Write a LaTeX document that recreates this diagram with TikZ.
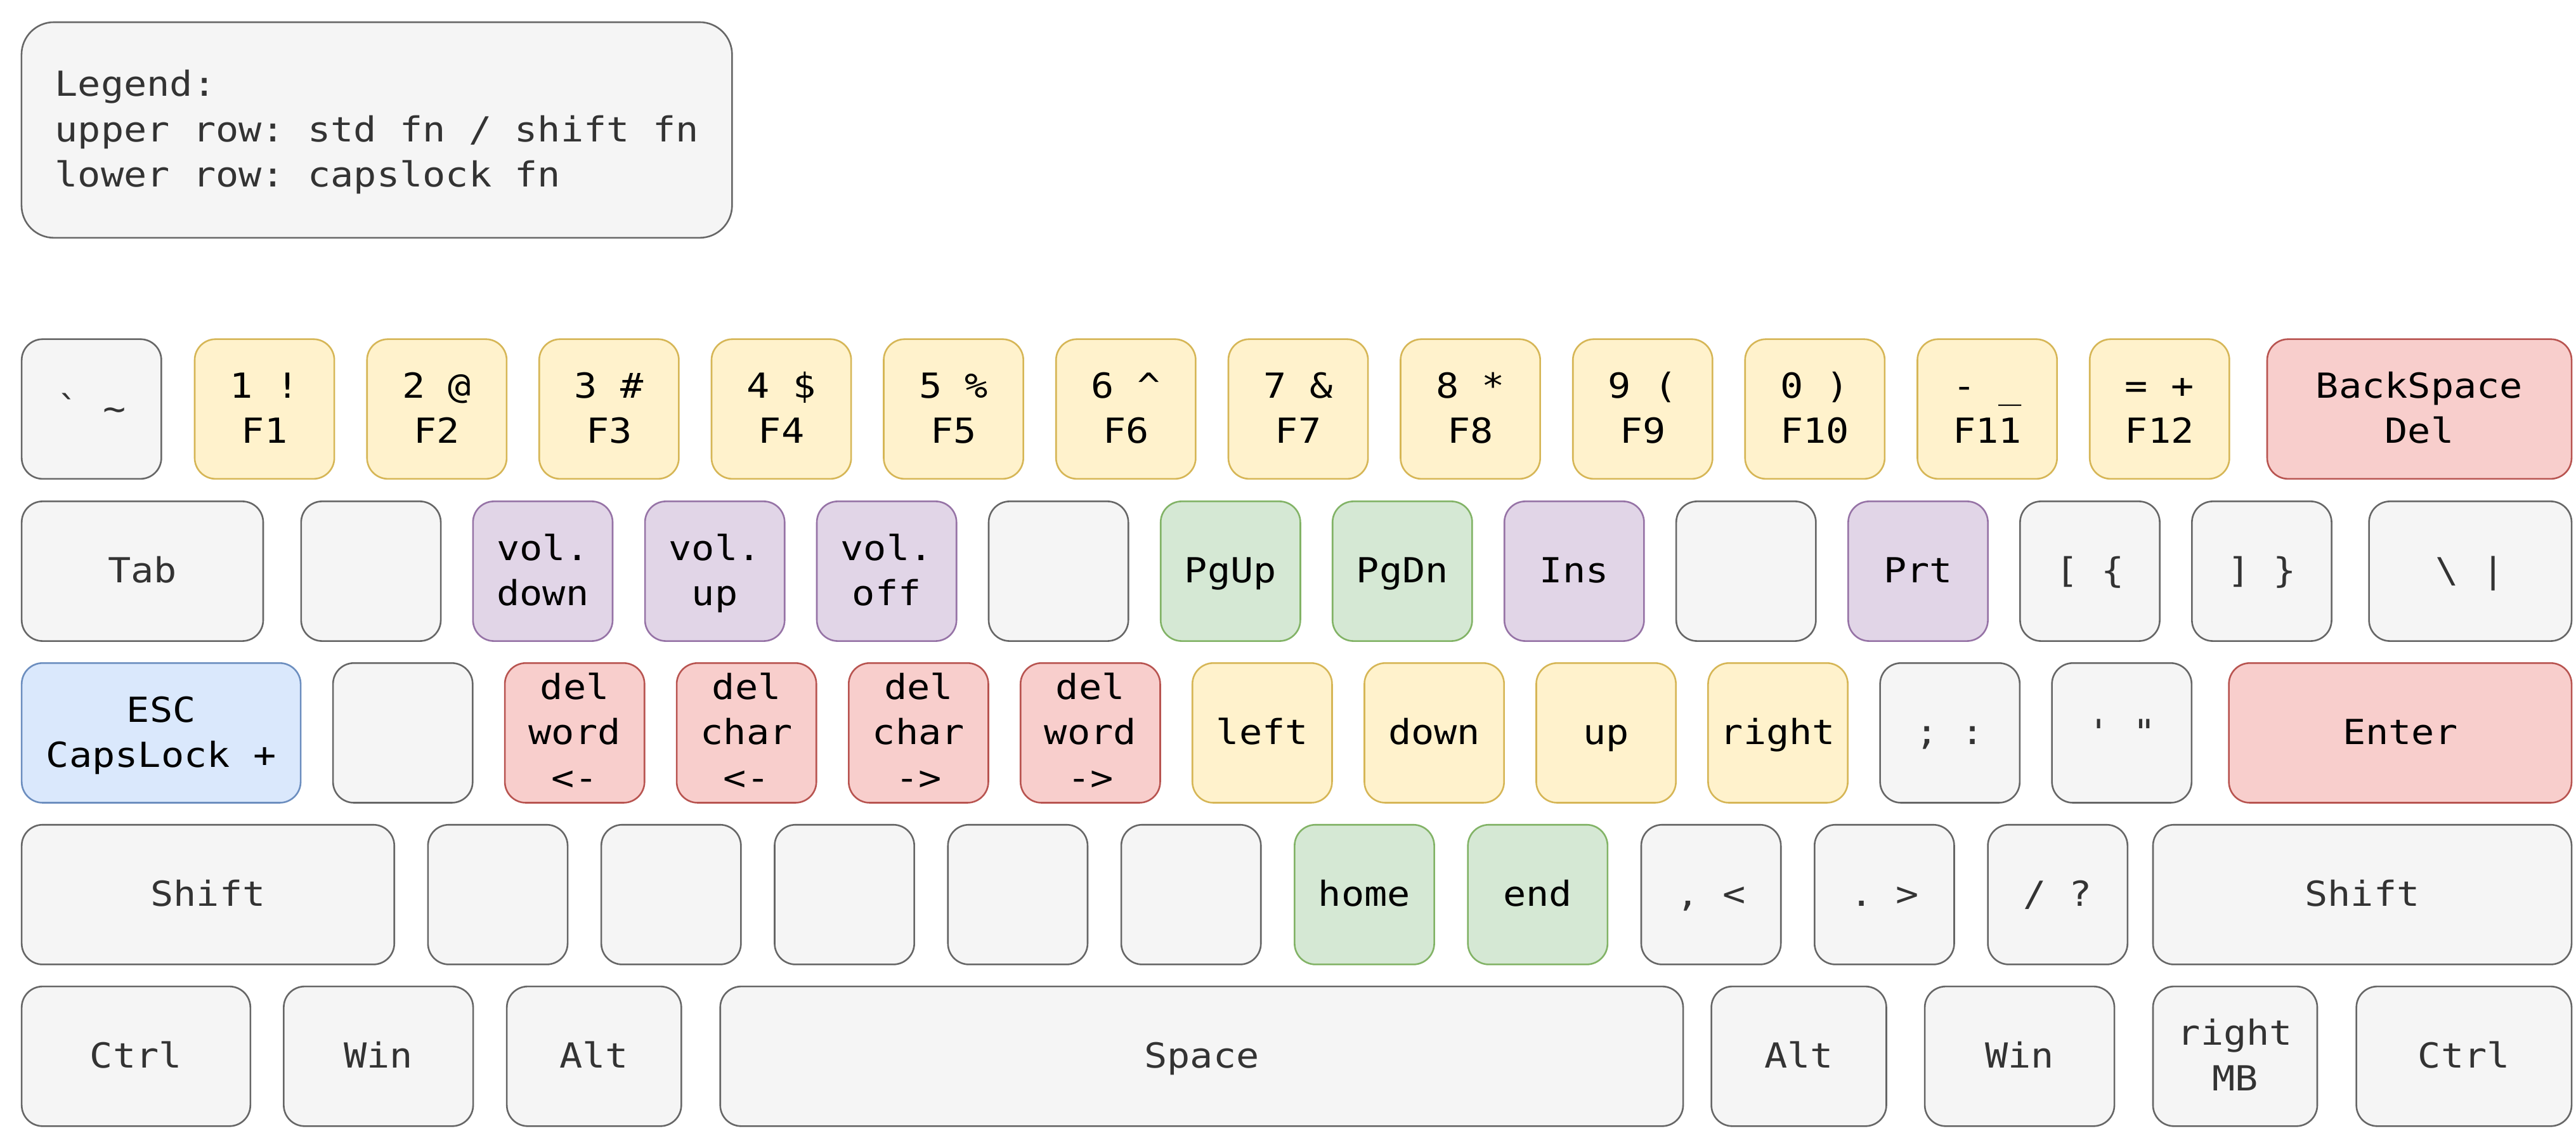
\documentclass[tikz,border=0pt]{standalone}
\usepackage{fontspec}
\newfontfamily\kbfont[FakeStretch=1.107,Ligatures=TeXOff]{DejaVu Sans Mono}
\newcommand\ks{\vrule width 0pt height 20.9pt depth 6.7pt\relax}
\newcommand\Kbq{\char"60\relax}
\newcommand\Ktil{\char"7E\relax}
\newcommand\Kcar{\char"5E\relax}
\newcommand\Kusc{\char"5F\relax}
\newcommand\Kbsl{\char"5C\relax}
\newcommand\Kbar{\char"7C\relax}
\newcommand\Kapo{\char"27\relax}
\newcommand\Kquo{\char"22\relax}
\newcommand\Klb{\char"7B\relax}
\newcommand\Krb{\char"7D\relax}
\definecolor{grayfill}{HTML}{F5F5F5}
\definecolor{graystroke}{HTML}{666666}
\definecolor{graytext}{HTML}{333333}
\definecolor{yelfill}{HTML}{FFF2CC}
\definecolor{yelstroke}{HTML}{D6B656}
\definecolor{purfill}{HTML}{E1D5E7}
\definecolor{purstroke}{HTML}{9673A6}
\definecolor{redfill}{HTML}{F8CECC}
\definecolor{redstroke}{HTML}{B85450}
\definecolor{grnfill}{HTML}{D5E8D4}
\definecolor{grnstroke}{HTML}{82B366}
\definecolor{blufill}{HTML}{DAE8FC}
\definecolor{blustroke}{HTML}{6C8EBF}
\tikzset{
  keybase/.style={draw, line width=1pt, rounded corners=12.75pt, inner sep=0pt,
    outer sep=0pt, anchor=north west, minimum height=85pt, minimum width=85pt,
    align=center, font=\kbfont\fontsize{21}{27.6}\selectfont\frenchspacing},
  gk/.style={keybase, fill=grayfill, draw=graystroke, text=graytext},
  yk/.style={keybase, fill=yelfill, draw=yelstroke, text=black},
  pk/.style={keybase, fill=purfill, draw=purstroke, text=black},
  rk/.style={keybase, fill=redfill, draw=redstroke, text=black},
  ek/.style={keybase, fill=grnfill, draw=grnstroke, text=black},
  bk/.style={keybase, fill=blufill, draw=blustroke, text=black},
  legendbox/.style={draw=graystroke, fill=grayfill, text=graytext, line width=1pt,
    rounded corners=19.7pt, inner sep=0pt, outer sep=0pt, anchor=north west,
    minimum width=432.5pt, minimum height=131.2pt, align=left,
    font=\kbfont\fontsize{21}{27.6}\selectfont\frenchspacing},
}
\begin{document}
\begin{tikzpicture}[x=1pt,y=-1pt]
\path[use as bounding box, fill=white] (0,0) rectangle (1568,688);
% legend
\node[legendbox] (legend) at (13.1,13.5) {\ks Legend:\\\ks upper row: std fn / shift fn\\\ks lower row: capslock fn};
% row 1
\node[gk] (grave) at (13.2,206.4) {\ks\Kbq{} \Ktil};
\node[yk] (k1) at (118.5,206.4) {\ks 1 !\\\ks F1};
\node[yk] (k2) at (223.4,206.4) {\ks 2 @\\\ks F2};
\node[yk] (k3) at (328.2,206.4) {\ks 3 \#\\\ks F3};
\node[yk] (k4) at (433.1,206.4) {\ks 4 \$\\\ks F4};
\node[yk] (k5) at (537.9,206.4) {\ks 5 \%\\\ks F5};
\node[yk] (k6) at (642.8,206.4) {\ks 6 \Kcar\\\ks F6};
\node[yk] (k7) at (747.7,206.4) {\ks 7 \&\\\ks F7};
\node[yk] (k8) at (852.5,206.4) {\ks 8 *\\\ks F8};
\node[yk] (k9) at (957.4,206.4) {\ks 9 (\\\ks F9};
\node[yk] (k0) at (1062.2,206.4) {\ks 0 )\\\ks F10};
\node[yk] (kminus) at (1167.1,206.4) {\ks - \Kusc\\\ks F11};
\node[yk] (kequal) at (1272.0,206.4) {\ks = +\\\ks F12};
\node[rk, minimum width=185.3pt] (kbksp) at (1380,206.4) {\ks BackSpace\\\ks Del};
% row 2
\node[gk, minimum width=147pt] (ktab) at (13.2,305.1) {\ks Tab};
\node[gk] (kq) at (183.3,305.1) {};
\node[pk] (kw) at (287.9,305.1) {\ks vol.\\\ks down};
\node[pk] (ke) at (392.6,305.1) {\ks vol.\\\ks up};
\node[pk] (kr) at (497.2,305.1) {\ks vol.\\\ks off};
\node[gk] (kt) at (601.8,305.1) {};
\node[ek] (ky) at (706.5,305.1) {\ks PgUp};
\node[ek] (ku) at (811.1,305.1) {\ks PgDn};
\node[pk] (ki) at (915.7,305.1) {\ks Ins};
\node[gk] (ko) at (1020.3,305.1) {};
\node[pk] (kp) at (1125.0,305.1) {\ks Prt};
\node[gk] (klbr) at (1229.6,305.1) {\ks [ \Klb};
\node[gk] (krbr) at (1334.2,305.1) {\ks ] \Krb};
\node[gk, minimum width=123.3pt] (kbsl) at (1442,305.1) {\ks\Kbsl{} \Kbar};
% row 3
\node[bk, minimum width=169.8pt] (kesc) at (13.2,403.5) {\ks ESC\\\ks CapsLock +};
\node[gk] (ka) at (202.7,403.5) {};
\node[rk] (ks) at (307.3,403.5) {\ks del\\\ks word\\\ks <-};
\node[rk] (kd) at (411.9,403.5) {\ks del\\\ks char\\\ks <-};
\node[rk] (kf) at (516.6,403.5) {\ks del\\\ks char\\\ks ->};
\node[rk] (kg) at (621.2,403.5) {\ks del\\\ks word\\\ks ->};
\node[yk] (kh) at (725.8,403.5) {\ks left};
\node[yk] (kj) at (830.5,403.5) {\ks down};
\node[yk] (kk) at (935.1,403.5) {\ks up};
\node[yk] (kl) at (1039.7,403.5) {\ks right};
\node[gk] (ksemi) at (1144.4,403.5) {\ks ; :};
\node[gk] (kquote) at (1249.0,403.5) {\ks\Kapo{} \Kquo};
\node[rk, minimum width=208.6pt] (kenter) at (1356.7,403.5) {\ks Enter};
% row 4
\node[gk, minimum width=226.8pt] (klshift) at (13.2,501.9) {\ks Shift};
\node[gk] (kz) at (260.5,501.9) {};
\node[gk] (kx) at (366,501.9) {};
\node[gk] (kc) at (471.5,501.9) {};
\node[gk] (kv) at (577,501.9) {};
\node[gk] (kb) at (682.5,501.9) {};
\node[ek] (kn) at (788,501.9) {\ks home};
\node[ek] (km) at (893.5,501.9) {\ks end};
\node[gk] (kcomma) at (999,501.9) {\ks , <};
\node[gk] (kdot) at (1104.5,501.9) {\ks . >};
\node[gk] (kslash) at (1210,501.9) {\ks / ?};
\node[gk, minimum width=254.8pt] (krshift) at (1310.5,501.9) {\ks Shift};
% row 5
\node[gk, minimum width=139.2pt] (klctrl) at (13.2,600.3) {\ks Ctrl};
\node[gk, minimum width=115.3pt] (klwin) at (172.7,600.3) {\ks Win};
\node[gk, minimum width=106.2pt] (klalt) at (308.5,600.3) {\ks Alt};
\node[gk, minimum width=586.1pt] (kspace) at (438.4,600.3) {\ks Space};
\node[gk, minimum width=106.5pt] (kralt) at (1041.7,600.3) {\ks Alt};
\node[gk, minimum width=115.4pt] (krwin) at (1171.6,600.3) {\ks Win};
\node[gk, minimum width=100pt] (kmb) at (1310.5,600.3) {\ks right\\\ks MB};
\node[gk, minimum width=131pt] (krctrl) at (1434.3,600.3) {\ks Ctrl};
\end{tikzpicture}
\end{document}
